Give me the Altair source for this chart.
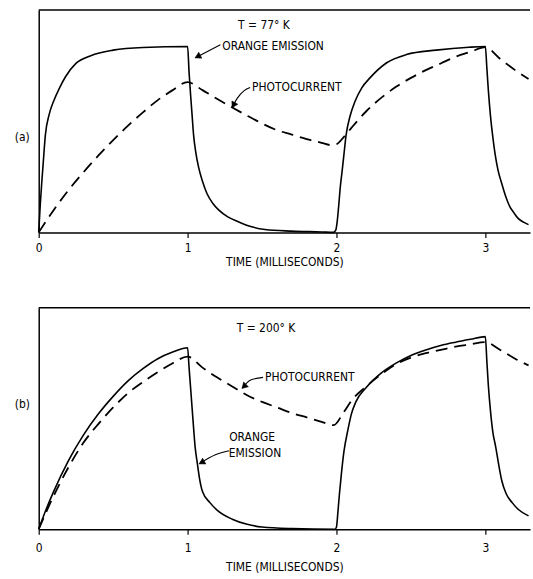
import math
import altair as alt
import pandas as pd

# ---------------- data ----------------
# Panel (a)  T = 77 K
A_EM_T = [0, 0.01, 0.02, 0.03, 0.045, 0.07, 0.1, 0.14, 0.18, 0.25, 0.35, 0.5, 0.7, 1.0,
          1.01, 1.02, 1.03, 1.04, 1.055, 1.075, 1.1, 1.13, 1.17, 1.21, 1.27, 1.34, 1.43, 1.52, 1.7, 1.9, 1.98,
          1.995, 2.005, 2.015, 2.025, 2.037, 2.05, 2.065, 2.09, 2.125, 2.17, 2.225, 2.335, 2.47, 2.67, 2.89, 3.0,
          3.01, 3.02, 3.035, 3.05, 3.066, 3.085, 3.11, 3.135, 3.165, 3.19, 3.22, 3.26, 3.29]
A_EM_Y = [0, 0.12, 0.22, 0.31, 0.44, 0.53, 0.59, 0.65, 0.70, 0.76, 0.795, 0.82, 0.832, 0.836,
          0.72, 0.62, 0.53, 0.44, 0.36, 0.29, 0.23, 0.175, 0.13, 0.10, 0.07, 0.048, 0.025, 0.013, 0.006, 0.002, 0.0,
          0.01, 0.05, 0.12, 0.20, 0.27, 0.35, 0.44, 0.52, 0.59, 0.65, 0.695, 0.762, 0.80, 0.82, 0.833, 0.836,
          0.74, 0.64, 0.52, 0.43, 0.35, 0.28, 0.22, 0.165, 0.115, 0.09, 0.063, 0.045, 0.035]
A_PC_T = [0, 0.1, 0.2, 0.3, 0.4, 0.5, 0.6, 0.7, 0.8, 0.9, 1.0, 1.1, 1.2, 1.3, 1.4, 1.5, 1.6, 1.7, 1.8,
          1.9, 1.96, 2.0, 2.05, 2.1, 2.2, 2.3, 2.4, 2.5, 2.6, 2.7, 2.8, 2.9, 3.0, 3.1, 3.2, 3.29]
A_PC_Y = [0, 0.10, 0.19, 0.27, 0.345, 0.415, 0.48, 0.54, 0.595, 0.64, 0.676, 0.64, 0.60, 0.562, 0.525,
          0.49, 0.46, 0.44, 0.42, 0.403, 0.393, 0.397, 0.43, 0.47, 0.545, 0.605, 0.655, 0.695, 0.73, 0.76,
          0.79, 0.812, 0.833, 0.78, 0.73, 0.69]

# Panel (b)  T = 200 K
B_EM_T = [0, 0.05, 0.1, 0.2, 0.3, 0.4, 0.5, 0.6, 0.7, 0.8, 0.9, 1.0,
          1.01, 1.02, 1.03, 1.04, 1.05, 1.065, 1.08, 1.1, 1.15, 1.2, 1.3, 1.4, 1.5, 1.7, 1.99,
          2.0, 2.01, 2.02, 2.033, 2.05, 2.077, 2.1, 2.13, 2.2, 2.3, 2.4, 2.5, 2.6, 2.7, 2.8, 2.9, 3.0,
          3.01, 3.02, 3.035, 3.05, 3.07, 3.09, 3.11, 3.14, 3.18, 3.22, 3.29]
B_EM_Y = [0, 0.09, 0.17, 0.31, 0.425, 0.52, 0.60, 0.67, 0.725, 0.77, 0.80, 0.82,
          0.73, 0.64, 0.55, 0.46, 0.375, 0.30, 0.23, 0.17, 0.12, 0.085, 0.045, 0.022, 0.01, 0.003, 0.0,
          0.01, 0.08, 0.16, 0.25, 0.35, 0.45, 0.52, 0.575, 0.64, 0.705, 0.75, 0.785, 0.81, 0.83, 0.845, 0.858, 0.87,
          0.76, 0.65, 0.53, 0.44, 0.37, 0.29, 0.22, 0.16, 0.12, 0.09, 0.06]
B_PC_T = [0, 0.1, 0.2, 0.3, 0.4, 0.5, 0.6, 0.7, 0.8, 0.9, 1.0, 1.1, 1.2, 1.3, 1.4, 1.5, 1.6, 1.7, 1.8,
          1.9, 1.98, 2.05, 2.1, 2.2, 2.3, 2.4, 2.5, 2.6, 2.7, 2.8, 2.9, 3.0, 3.1, 3.2, 3.29]
B_PC_Y = [0, 0.15, 0.28, 0.39, 0.475, 0.55, 0.615, 0.665, 0.71, 0.75, 0.78, 0.73, 0.685, 0.645, 0.605,
          0.575, 0.55, 0.525, 0.505, 0.485, 0.47, 0.53, 0.58, 0.645, 0.70, 0.745, 0.775, 0.795, 0.81, 0.825,
          0.835, 0.845, 0.81, 0.77, 0.74]

TICKS = [0, 1, 2, 3]
X_TITLE = "TIME (MILLISECONDS)"

# annotation texts (t, y in data units)
A_TEMP = ("T = 77° K", 1.513, 0.933)
A_LEFT_NOTES = [("ORANGE EMISSION", 1.233, 0.837), ("PHOTOCURRENT", 1.433, 0.652)]
B_TEMP = ("T = 200° K", 1.527, 0.910)
B_LEFT_NOTES = [("PHOTOCURRENT", 1.52, 0.686)]
B_CENTER_NOTES = [("ORANGE", 1.433, 0.417), ("EMISSION", 1.453, 0.345)]

# leader arrows: list of (t, y) from the label toward the tip
A_ARROWS = [
    [(1.22, 0.844), (1.053, 0.786)],
    [(1.42, 0.652), (1.38, 0.638), (1.333, 0.603), (1.30, 0.5625)],
]
B_ARROWS = [
    [(1.507, 0.686), (1.42, 0.673), (1.367, 0.637)],
    [(1.28, 0.354), (1.187, 0.336), (1.08, 0.296)],
]

# ---------------- layout / style ----------------
XMAX = 3.3
W = 495
HA = 224
HB = 223
FONT = "DejaVu Sans Condensed, Liberation Sans Narrow, Liberation Sans, sans-serif"


def panel(em_t, em_y, pc_t, pc_y, H, label, label_y, temp, left_notes, center_notes,
          arrows, lab_pad, title_pad):
    xscale = alt.Scale(domain=[0, XMAX], nice=False, zero=False)
    yscale = alt.Scale(domain=[0, 1], nice=False, zero=False)
    xaxis = alt.Axis(values=TICKS, format="d", title=X_TITLE, grid=False,
                     domainColor="black", domainWidth=1.5, tickColor="black",
                     tickWidth=1.2, tickSize=5, labelFont=FONT, labelFontSize=12,
                     labelColor="black", labelPadding=lab_pad, labelFlush=False,
                     titleFont=FONT, titleFontSize=12, titleFontWeight="normal",
                     titleColor="black", titlePadding=title_pad)
    yaxis = alt.Axis(labels=False, ticks=False, grid=False, domainColor="black",
                     domainWidth=1.5, title=label, titleAngle=0, titleX=-17,
                     titleY=label_y, titleAlign="center", titleBaseline="middle",
                     titleFont=FONT, titleFontSize=12, titleFontWeight="normal",
                     titleColor="black")

    def enc(c):
        return c.encode(x=alt.X("t:Q", scale=xscale, axis=xaxis),
                        y=alt.Y("y:Q", scale=yscale, axis=yaxis))

    em = pd.DataFrame({"t": em_t, "y": em_y})
    pc = pd.DataFrame({"t": pc_t, "y": pc_y})
    solid = enc(alt.Chart(em).mark_line(color="black", strokeWidth=1.6,
                                        interpolate="monotone"))
    dashed = enc(alt.Chart(pc).mark_line(color="black", strokeWidth=1.8,
                                         strokeDash=[12, 7], interpolate="monotone"))

    frame = alt.Chart(pd.DataFrame({"t": [0], "t2": [XMAX], "y": [1]})).mark_rule(
        color="black", strokeWidth=1.5).encode(
        x=alt.X("t:Q", scale=xscale, axis=xaxis), x2="t2:Q",
        y=alt.Y("y:Q", scale=yscale, axis=yaxis))

    cn = pd.DataFrame({"t": [n[1] for n in center_notes] + [temp[1]],
                       "y": [n[2] for n in center_notes] + [temp[2]],
                       "txt": [n[0] for n in center_notes] + [temp[0]]})
    ln = pd.DataFrame({"t": [n[1] for n in left_notes], "y": [n[2] for n in left_notes],
                       "txt": [n[0] for n in left_notes]})
    ctext = enc(alt.Chart(cn).mark_text(align="center", baseline="middle", font=FONT,
                                        fontSize=12, color="black")).encode(text="txt:N")
    ltext = enc(alt.Chart(ln).mark_text(align="left", baseline="middle", font=FONT,
                                        fontSize=12, color="black")).encode(text="txt:N")

    rows, heads = [], []
    for i, pts in enumerate(arrows):
        for j, (t, y) in enumerate(pts):
            rows.append({"t": t, "y": y, "id": i, "o": j})
        (t0, y0), (t1, y1) = pts[-2], pts[-1]
        dx = (t1 - t0) * W / XMAX
        dy = -(y1 - y0) * H
        n = math.hypot(dx, dy)
        ux, uy = dx / n, dy / n
        back = 3.5
        heads.append({"t": t1 - back * ux * XMAX / W, "y": y1 + back * uy / H,
                      "ang": math.degrees(math.atan2(ux, -uy)) % 360})
    adf = pd.DataFrame(rows)
    hdf = pd.DataFrame(heads)
    alines = enc(alt.Chart(adf).mark_line(color="black", strokeWidth=1.1,
                                          interpolate="monotone")).encode(
        detail="id:N", order="o:Q")
    aheads = enc(alt.Chart(hdf).mark_point(shape="triangle", filled=True, fill="black",
                                           stroke="black", strokeWidth=0.5,
                                           opacity=1, size=45)).encode(
        angle=alt.Angle("ang:Q", scale=None))

    return alt.layer(frame, dashed, solid, alines, aheads, ctext, ltext).properties(
        width=W, height=H)


pa = panel(A_EM_T, A_EM_Y, A_PC_T, A_PC_Y, HA, "(a)", 127, A_TEMP, A_LEFT_NOTES, [],
           A_ARROWS, 5, 3)
pb = panel(B_EM_T, B_EM_Y, B_PC_T, B_PC_Y, HB, "(b)", 96, B_TEMP, B_LEFT_NOTES,
           B_CENTER_NOTES, B_ARROWS, 8, 9)

chart = alt.vconcat(pa, pb, spacing=38).properties(
    padding={"left": 13, "top": 6, "right": 0, "bottom": 0},
    background="white",
).configure_view(stroke="transparent")

chart.save("out.html", embed_options={"renderer": "svg", "actions": False})
